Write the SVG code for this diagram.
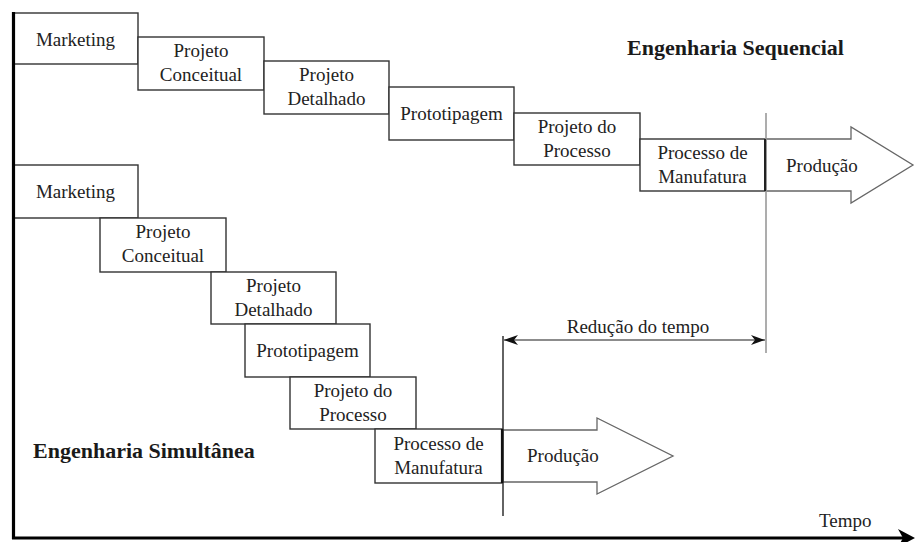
<svg xmlns="http://www.w3.org/2000/svg" width="915" height="542" viewBox="0 0 915 542">
<style>
.box{fill:#fff;stroke:#333;stroke-width:1.4}
.prod{fill:#fff;stroke:#666;stroke-width:1.3}
text{font-family:'Liberation Serif','Times New Roman',Times,'DejaVu Serif','Noto Serif',serif}
.t{font-size:19px;fill:#222;text-anchor:middle}
.tl{font-size:19px;fill:#222}
.title{font-size:22px;font-weight:bold;fill:#1a1a1a}
</style>
<defs>
<marker id="stealth" viewBox="0 0 14 10" refX="14" refY="5" markerWidth="14" markerHeight="10" markerUnits="userSpaceOnUse" orient="auto-start-reverse">
<path d="M0,0 L14,5 L0,10 L4,5 z" fill="#111"/>
</marker>
</defs>
<rect width="915" height="542" fill="#fff"/>

<g id="seq-marketing"><rect class="box" x="13" y="13" width="125" height="51"/><text class="t" x="75.5" y="46">Marketing</text></g>
<g id="seq-projeto-conceitual"><rect class="box" x="138" y="37" width="126" height="53"/><text class="t" x="201" y="57">Projeto</text><text class="t" x="201" y="81">Conceitual</text></g>
<g id="seq-projeto-detalhado"><rect class="box" x="264" y="61" width="125" height="53"/><text class="t" x="326.5" y="81">Projeto</text><text class="t" x="326.5" y="105">Detalhado</text></g>
<g id="seq-prototipagem"><rect class="box" x="389" y="87" width="125" height="53"/><text class="t" x="451.5" y="120">Prototipagem</text></g>
<g id="seq-projeto-processo"><rect class="box" x="514" y="113" width="126" height="52"/><text class="t" x="577" y="133">Projeto do</text><text class="t" x="577" y="157">Processo</text></g>
<g id="seq-processo-manufatura"><rect class="box" x="640" y="139" width="125" height="52"/><text class="t" x="702.5" y="159">Processo de</text><text class="t" x="702.5" y="183">Manufatura</text></g>
<g id="seq-producao"><polygon class="prod" points="766,139 851,139 851,127 913,165 851,203 851,191 766,191"/><text class="tl" x="786" y="172">Produção</text></g>

<g id="sim-marketing"><rect class="box" x="13" y="165" width="125" height="53"/><text class="t" x="75.5" y="198">Marketing</text></g>
<g id="sim-projeto-conceitual"><rect class="box" x="100" y="218" width="126" height="54"/><text class="t" x="163" y="238">Projeto</text><text class="t" x="163" y="262">Conceitual</text></g>
<g id="sim-projeto-detalhado"><rect class="box" x="211" y="272" width="125" height="52"/><text class="t" x="273.5" y="292">Projeto</text><text class="t" x="273.5" y="316">Detalhado</text></g>
<g id="sim-prototipagem"><rect class="box" x="245" y="324" width="125" height="53"/><text class="t" x="307.5" y="357">Prototipagem</text></g>
<g id="sim-projeto-processo"><rect class="box" x="290" y="377" width="126" height="52"/><text class="t" x="353" y="397">Projeto do</text><text class="t" x="353" y="421">Processo</text></g>
<g id="sim-processo-manufatura"><rect class="box" x="375" y="429" width="127" height="54"/><text class="t" x="438.5" y="450">Processo de</text><text class="t" x="438.5" y="474">Manufatura</text></g>
<g id="sim-producao"><polygon class="prod" points="503,430 597,430 597,418 673,456 597,494 597,482 503,482"/><text class="tl" x="527" y="462">Produção</text></g>

<g id="labels">
<text class="title" x="627" y="55">Engenharia Sequencial</text>
<text class="title" x="33" y="458">Engenharia Simultânea</text>
<text class="t" x="638" y="333">Redução do tempo</text>
<text class="tl" x="819" y="527">Tempo</text>
</g>

<g id="connectors">
<line x1="766" y1="113" x2="766" y2="353" stroke="#999" stroke-width="1.6"/>
<line x1="765" y1="139" x2="765" y2="191" stroke="#222" stroke-width="2"/>
<line x1="503" y1="336" x2="503" y2="516" stroke="#222" stroke-width="1.4"/>
<line x1="502" y1="429" x2="502" y2="483" stroke="#111" stroke-width="2.2"/>
<line x1="504" y1="340" x2="765" y2="340" stroke="#666" stroke-width="1.3" marker-start="url(#stealth)" marker-end="url(#stealth)"/>
<line x1="13.5" y1="12" x2="13.5" y2="539" stroke="#000" stroke-width="3.2"/>
<line x1="12" y1="538" x2="906" y2="538" stroke="#000" stroke-width="3.2"/>
<polygon points="898,529 915,538 898,547 903,538" fill="#000"/>
</g>
</svg>
